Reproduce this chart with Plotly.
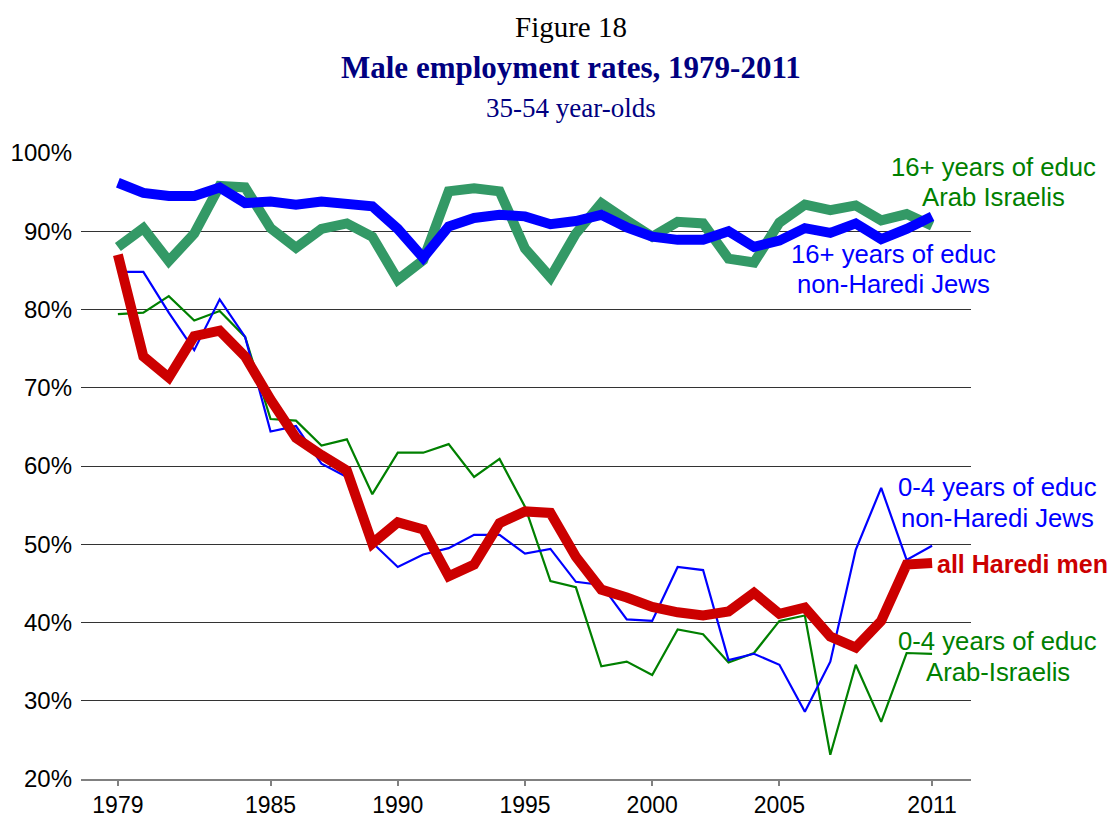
import plotly.graph_objects as go

years = list(range(1979, 2012))

haredi_all = [87.0, 74.0, 71.3, 76.6, 77.3, 74.0, 68.5, 63.6, 61.4, 59.4, 50.1,
              52.8, 51.9, 45.9, 47.4, 52.7, 54.2, 54.0, 48.4, 44.2, 43.2, 42.0,
              41.3, 40.9, 41.4, 43.8, 41.1, 41.9, 38.2, 36.8, 40.2, 47.4, 47.6]

jews_16plus = [96.2, 94.9, 94.5, 94.5, 95.6, 93.6, 93.8, 93.4, 93.8, 93.6, 93.2,
               90.3, 86.6, 90.6, 91.7, 92.1, 91.9, 90.9, 91.3, 92.1, 90.5, 89.3,
               88.9, 88.9, 90.0, 88.0, 88.8, 90.4, 89.8, 91.0, 89.0, 90.3, 91.9]

arab_16plus = [88.0, 90.4, 86.2, 89.7, 95.8, 95.6, 90.4, 87.9, 90.3, 91.0, 89.3,
               83.8, 86.3, 95.1, 95.5, 95.1, 87.8, 84.1, 89.7, 93.6, 91.4, 89.3,
               91.2, 91.0, 86.5, 86.0, 91.1, 93.4, 92.7, 93.3, 91.4, 92.2, 90.7]

jews_0to4 = [84.8, 84.8, 79.6, 74.8, 81.3, 76.5, 64.4, 65.1, 60.3, 58.6, 50.2,
             47.1, 48.7, 49.5, 51.2, 51.2, 48.8, 49.4, 45.2, 44.8, 40.4, 40.2,
             47.1, 46.7, 35.2, 36.0, 34.6, 28.6, 35.0, 49.3, 57.2, 48.0, 49.8]

arab_0to4 = [79.4, 79.6, 81.7, 78.6, 79.8, 76.5, 66.0, 65.8, 62.6, 63.4, 56.4,
             61.7, 61.7, 62.8, 58.6, 60.9, 54.8, 45.3, 44.5, 34.4, 35.0, 33.3,
             39.1, 38.5, 34.9, 36.1, 40.2, 40.9, 23.1, 34.6, 27.3, 36.1, 36.0]

x_tick_years = [1979, 1985, 1990, 1995, 2000, 2005, 2011]
y_ticks = [20, 30, 40, 50, 60, 70, 80, 90, 100]
y_tick_labels = ["20%", "30%", "40%", "50%", "60%", "70%", "80%", "90%", "100%"]

fig = go.Figure()

series = [
    (arab_16plus, "#339966", 10),
    (jews_16plus, "#0000FF", 10),
    (arab_0to4, "#008000", 2.2),
    (jews_0to4, "#0000FF", 2.2),
    (haredi_all, "#CC0000", 10),
]
for vals, col, w in series:
    fig.add_trace(go.Scatter(x=years, y=vals, mode="lines",
                             line=dict(color=col, width=w), showlegend=False,
                             hoverinfo="skip"))

sans = "Liberation Sans, Arial, sans-serif"
serif = "Liberation Serif, Times New Roman, serif"

fig.update_layout(
    width=1110, height=809,
    margin=dict(l=73, r=147, t=145, b=38),
    paper_bgcolor="white", plot_bgcolor="white",
    xaxis=dict(range=[1977.55, 2012.53], tickvals=x_tick_years,
               ticks="outside", ticklen=5, tickcolor="#808080", tickwidth=1.5,
               showline=True, linecolor="#808080", linewidth=1.5,
               showgrid=False, zeroline=False, automargin=False,
               tickfont=dict(family=sans, size=23, color="black")),
    yaxis=dict(range=[20, 100], tickvals=y_ticks, ticktext=y_tick_labels,
               showgrid=True, gridcolor="#333333", gridwidth=1,
               zeroline=False, showline=False, ticks="", automargin=False,
               ticklabelstandoff=8,
               tickfont=dict(family=sans, size=24, color="black")),
)

annots = [
    dict(text="Figure 18", x=0.5506, y=1.2013, font=dict(family=serif, size=29, color="black")),
    dict(text="<b>Male employment rates, 1979-2011</b>", x=0.5506, y=1.1358,
         font=dict(family=serif, size=31, color="#000080")),
    dict(text="35-54 year-olds", x=0.5506, y=1.0719, font=dict(family=serif, size=27, color="#000080")),
    dict(text="16+ years of educ", x=1.0258, y=0.9776, font=dict(family=sans, size=25.7, color="#008000")),
    dict(text="Arab Israelis", x=1.0258, y=0.9297, font=dict(family=sans, size=25.7, color="#008000")),
    dict(text="16+ years of educ", x=0.9124, y=0.8387, font=dict(family=sans, size=25.7, color="#0000FF")),
    dict(text="non-Haredi Jews", x=0.9124, y=0.7907, font=dict(family=sans, size=25.7, color="#0000FF")),
    dict(text="0-4 years of educ", x=1.0303, y=0.4665, font=dict(family=sans, size=25.7, color="#0000FF")),
    dict(text="non-Haredi Jews", x=1.0303, y=0.4169, font=dict(family=sans, size=25.7, color="#0000FF")),
    dict(text="0-4 years of educ", x=1.0303, y=0.2204, font=dict(family=sans, size=25.7, color="#008000")),
    dict(text="Arab-Israelis", x=1.0303, y=0.1709, font=dict(family=sans, size=25.7, color="#008000")),
]
for a in annots:
    fig.add_annotation(xref="paper", yref="paper", showarrow=False,
                       xanchor="center", yanchor="middle", align="center", **a)

fig.add_annotation(xref="paper", yref="paper", showarrow=False,
                   x=0.9596, y=0.3435, xanchor="left", yanchor="middle",
                   text="<b>all Haredi men</b>",
                   font=dict(family=sans, size=25, color="#CC0000"))

fig.write_html("out.html")
